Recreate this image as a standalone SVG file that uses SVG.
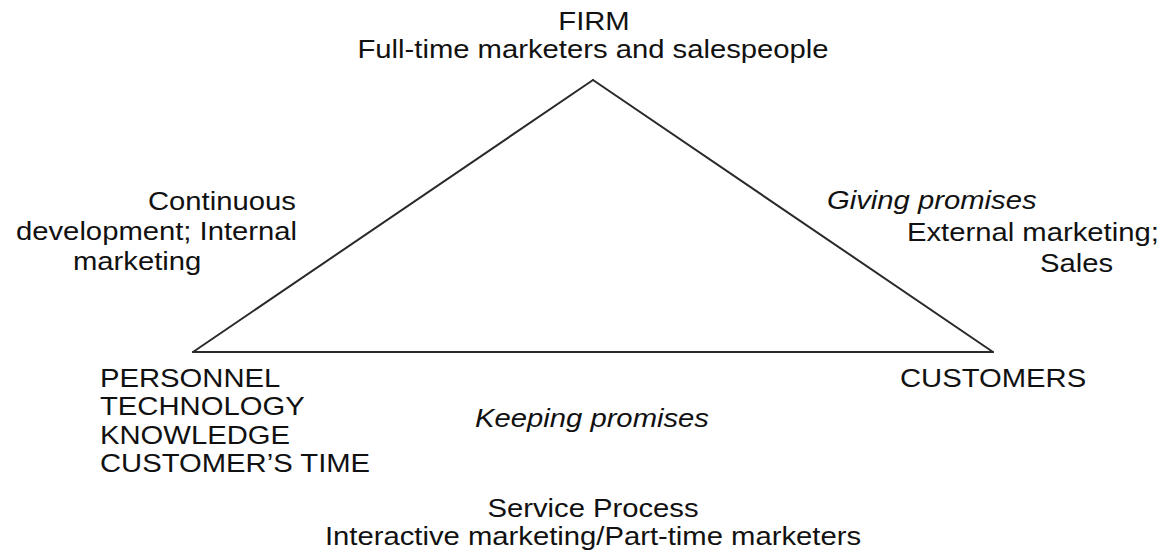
<svg xmlns="http://www.w3.org/2000/svg" width="1171" height="553" viewBox="0 0 1171 553">
  <style>
    text { font-family: "Liberation Sans", Arial, Helvetica, sans-serif; font-size: 25px; fill: #111; }
    .it { font-style: italic; }
    .mid { text-anchor: middle; }
    .edge { stroke: #2a2a2a; stroke-width: 2; fill: none; stroke-linecap: round; }
  </style>
  <rect width="1171" height="553" fill="#ffffff"/>
  <g id="connectors">
    <line class="edge" x1="593" y1="80" x2="193" y2="352"/>
    <line class="edge" x1="593" y1="80" x2="993" y2="352"/>
    <line class="edge" x1="193" y1="352" x2="993" y2="352"/>
  </g>
  <g id="firm">
    <g transform="translate(594,30) scale(1.17,1)"><text class="mid">FIRM</text></g>
    <g transform="translate(593,58) scale(1.17,1)"><text class="mid">Full-time marketers and salespeople</text></g>
  </g>
  <g id="resources">
    <g transform="translate(100,387) scale(1.17,1)"><text>PERSONNEL</text></g>
    <g transform="translate(100,415) scale(1.17,1)"><text>TECHNOLOGY</text></g>
    <g transform="translate(100,444) scale(1.17,1)"><text>KNOWLEDGE</text></g>
    <g transform="translate(100,472) scale(1.17,1)"><text>CUSTOMER’S TIME</text></g>
  </g>
  <g id="customers">
    <g transform="translate(900,387) scale(1.17,1)"><text>CUSTOMERS</text></g>
  </g>
  <g id="label-internal">
    <g transform="translate(148,210) scale(1.17,1)"><text>Continuous</text></g>
    <g transform="translate(16,240) scale(1.17,1)"><text>development; Internal</text></g>
    <g transform="translate(73,270) scale(1.17,1)"><text>marketing</text></g>
  </g>
  <g id="label-external">
    <g transform="translate(827,209) scale(1.17,1)"><text class="it">Giving promises</text></g>
    <g transform="translate(907,241) scale(1.17,1)"><text>External marketing;</text></g>
    <g transform="translate(1040,272) scale(1.17,1)"><text>Sales</text></g>
  </g>
  <g id="label-interactive">
    <g transform="translate(475,427) scale(1.17,1)"><text class="it">Keeping promises</text></g>
    <g transform="translate(593,517) scale(1.17,1)"><text class="mid">Service Process</text></g>
    <g transform="translate(593,545) scale(1.17,1)"><text class="mid">Interactive marketing/Part-time marketers</text></g>
  </g>
</svg>
